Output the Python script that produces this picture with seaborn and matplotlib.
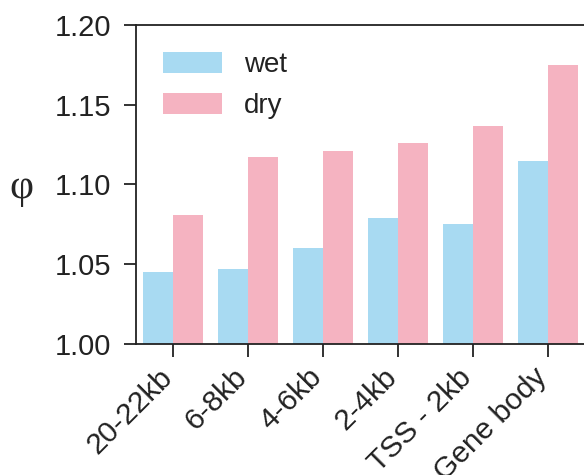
import matplotlib
matplotlib.use("Agg")
import matplotlib.pyplot as plt
import seaborn as sns
import pandas as pd

regions = ["20-22kb", "6-8kb", "4-6kb", "2-4kb", "TSS - 2kb", "Gene body"]
wet = [1.045, 1.047, 1.0605, 1.079, 1.075, 1.115]
dry = [1.081, 1.117, 1.121, 1.126, 1.1365, 1.175]
conditions = ["wet", "dry"]
colors = ["#A8DAF2", "#F5B3C1"]

df = pd.DataFrame({
    "region": regions * 2,
    "phi": wet + dry,
    "condition": ["wet"] * len(regions) + ["dry"] * len(regions),
})

sns.set_style("ticks")
plt.rcParams["font.family"] = ["Liberation Sans", "DejaVu Sans"]

fig = plt.figure(figsize=(5.84, 4.75), dpi=100)
ax = fig.add_axes([136 / 584, 131 / 475, 449.5 / 584, 319 / 475])

sns.barplot(data=df, x="region", y="phi", hue="condition", hue_order=conditions,
            palette=colors, saturation=1, width=0.8, ax=ax, errorbar=None,
            linewidth=0)

ax.set_ylim(1.0, 1.2)
ax.set_xlim(-0.5, 5.5)
ax.set_yticks([1.00, 1.05, 1.10, 1.15, 1.20])
ax.set_yticklabels(["1.00", "1.05", "1.10", "1.15", "1.20"])
ax.set_xlabel("")
ax.set_ylabel("φ", rotation=0, fontsize=30, family=["Liberation Serif", "DejaVu Serif"],
              ha="center", va="center")
ax.yaxis.set_label_coords(-0.254, 0.49)

for s in ax.spines.values():
    s.set_linewidth(1.3)
    s.set_color("#222222")

ax.tick_params(axis="both", length=9, width=1.3, color="#222222",
               labelcolor="#222222")
ax.tick_params(axis="y", labelsize=21, pad=9)
ax.tick_params(axis="x", labelsize=21.5, pad=16)
plt.setp(ax.get_xticklabels(), rotation=45, ha="right", va="baseline",
         rotation_mode="anchor")

leg = ax.legend(frameon=False, fontsize=20, loc="upper left",
                bbox_to_anchor=(0.06, 0.914), borderpad=0, borderaxespad=0,
                handlelength=2.12, handleheight=0.76,
                handletextpad=0.8, labelspacing=0.53)
for t in leg.get_texts():
    t.set_color("#222222")

fig.savefig("out.png", dpi=100)
